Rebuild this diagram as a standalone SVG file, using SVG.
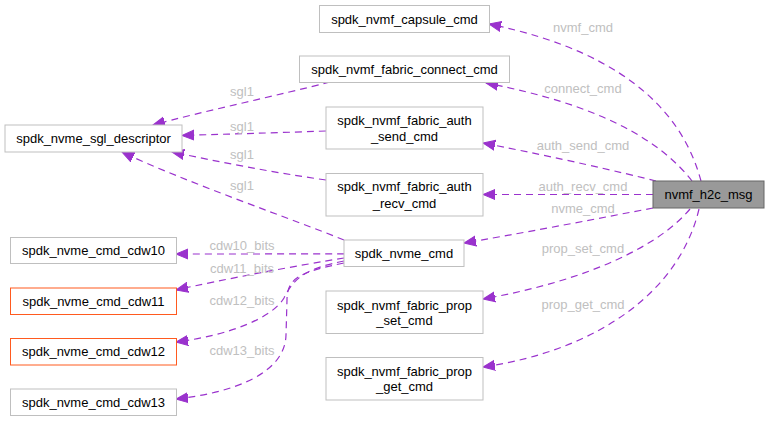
<svg xmlns="http://www.w3.org/2000/svg" width="769" height="421" viewBox="0 0 769 421">
<style>
.n rect{fill:#fff;stroke:#bfbfbf;stroke-width:1}
.n.o rect{stroke:#ff5a1f}
.n.m rect{fill:#999;stroke:#666}
.n text{font-family:"Liberation Sans",Arial,sans-serif;font-size:13px;fill:#000;text-anchor:middle}
.e path{fill:none;stroke:#9a32cd;stroke-width:1.2;stroke-dasharray:7,5;marker-end:url(#ah)}
.e text{font-family:"Liberation Sans",Arial,sans-serif;font-size:13px;fill:#c0c0c0;text-anchor:middle}
</style>
<defs>
<marker id="ah" markerUnits="userSpaceOnUse" markerWidth="14" markerHeight="12" refX="12" refY="5" orient="auto" viewBox="0 0 14 10">
<path d="M0,0 L12,5 L0,10 Z" fill="#9a32cd" stroke="#9a32cd" stroke-width="1"/>
</marker>
</defs>
<rect width="769" height="421" fill="#fff"/>
<g id="edges" class="e">
<path d="M701,181 C686,125 640,55 489,24"/>
<path d="M692,181 C660,140 600,105 486,83"/>
<path d="M656,181 C620,172 560,158 483,143"/>
<path d="M653,194.5 L483,194.5"/>
<path d="M653,208 C600,218 540,230 464,243"/>
<path d="M690,209 C660,245 590,280 483,299"/>
<path d="M699,209 C680,290 600,350 483,367"/>
<path d="M330,82 C280,95 200,112 153,125"/>
<path d="M326,131 C270,133 230,134 182,135.5"/>
<path d="M326,180 C270,172 220,162 172,152"/>
<path d="M344,240 C300,222 180,180 122,152"/>
<path d="M344,253.8 C290,254 230,254 176,254"/>
<path d="M344,258 C300,265 220,280 176,290"/>
<path d="M344,261 C310,268 295,275 284,298 C272,318 230,335 176,342"/>
<path d="M344,263 C300,272 287,278 287,300 L286,335 C285,375 230,393 176,399"/>
<text x="583" y="31.5">nvmf_cmd</text>
<text x="583" y="92.5">connect_cmd</text>
<text x="583" y="150">auth_send_cmd</text>
<text x="583" y="191">auth_recv_cmd</text>
<text x="583" y="212.5">nvme_cmd</text>
<text x="583" y="252.5">prop_set_cmd</text>
<text x="583" y="308.5">prop_get_cmd</text>
<text x="242" y="95.5">sgl1</text>
<text x="242" y="130.5">sgl1</text>
<text x="242" y="158.5">sgl1</text>
<text x="242" y="190">sgl1</text>
<text x="242" y="249.5">cdw10_bits</text>
<text x="242" y="272.5">cdw11_bits</text>
<text x="242" y="304.5">cdw12_bits</text>
<text x="242" y="354.5">cdw13_bits</text>
</g>
<g id="n_capsule" class="n"><rect x="319.5" y="5.5" width="170" height="27"/><text x="404.5" y="23.5">spdk_nvmf_capsule_cmd</text></g>
<g id="n_connect" class="n"><rect x="299.5" y="56" width="210" height="26.5"/><text x="404.5" y="73.5">spdk_nvmf_fabric_connect_cmd</text></g>
<g id="n_auth_send" class="n"><rect x="326" y="107" width="157" height="42"/><text x="404.5" y="124.5">spdk_nvmf_fabric_auth</text><text x="404.5" y="141">_send_cmd</text></g>
<g id="n_auth_recv" class="n"><rect x="326" y="173.5" width="157" height="42.5"/><text x="404.5" y="191">spdk_nvmf_fabric_auth</text><text x="404.5" y="207.5">_recv_cmd</text></g>
<g id="n_h2c" class="n m"><rect x="653" y="181" width="111" height="27"/><text x="708.5" y="199">nvmf_h2c_msg</text></g>
<g id="n_sgl" class="n"><rect x="5" y="125" width="177" height="27"/><text x="93.5" y="143">spdk_nvme_sgl_descriptor</text></g>
<g id="n_cdw10" class="n"><rect x="10.5" y="237.5" width="166" height="26"/><text x="93.5" y="255">spdk_nvme_cmd_cdw10</text></g>
<g id="n_cdw11" class="n o"><rect x="10.5" y="288" width="166" height="26.5"/><text x="93.5" y="305.5">spdk_nvme_cmd_cdw11</text></g>
<g id="n_cdw12" class="n o"><rect x="10.5" y="338.5" width="166" height="26.5"/><text x="93.5" y="356">spdk_nvme_cmd_cdw12</text></g>
<g id="n_cdw13" class="n"><rect x="10.5" y="389" width="166" height="26.5"/><text x="93.5" y="406.5">spdk_nvme_cmd_cdw13</text></g>
<g id="n_nvme_cmd" class="n"><rect x="344" y="240" width="120" height="26.5"/><text x="404" y="257.5">spdk_nvme_cmd</text></g>
<g id="n_prop_set" class="n"><rect x="326" y="291" width="157" height="42.5"/><text x="404.5" y="309.5">spdk_nvmf_fabric_prop</text><text x="404.5" y="325">_set_cmd</text></g>
<g id="n_prop_get" class="n"><rect x="326" y="357.5" width="157" height="42.5"/><text x="404.5" y="375.5">spdk_nvmf_fabric_prop</text><text x="404.5" y="391">_get_cmd</text></g>
</svg>
